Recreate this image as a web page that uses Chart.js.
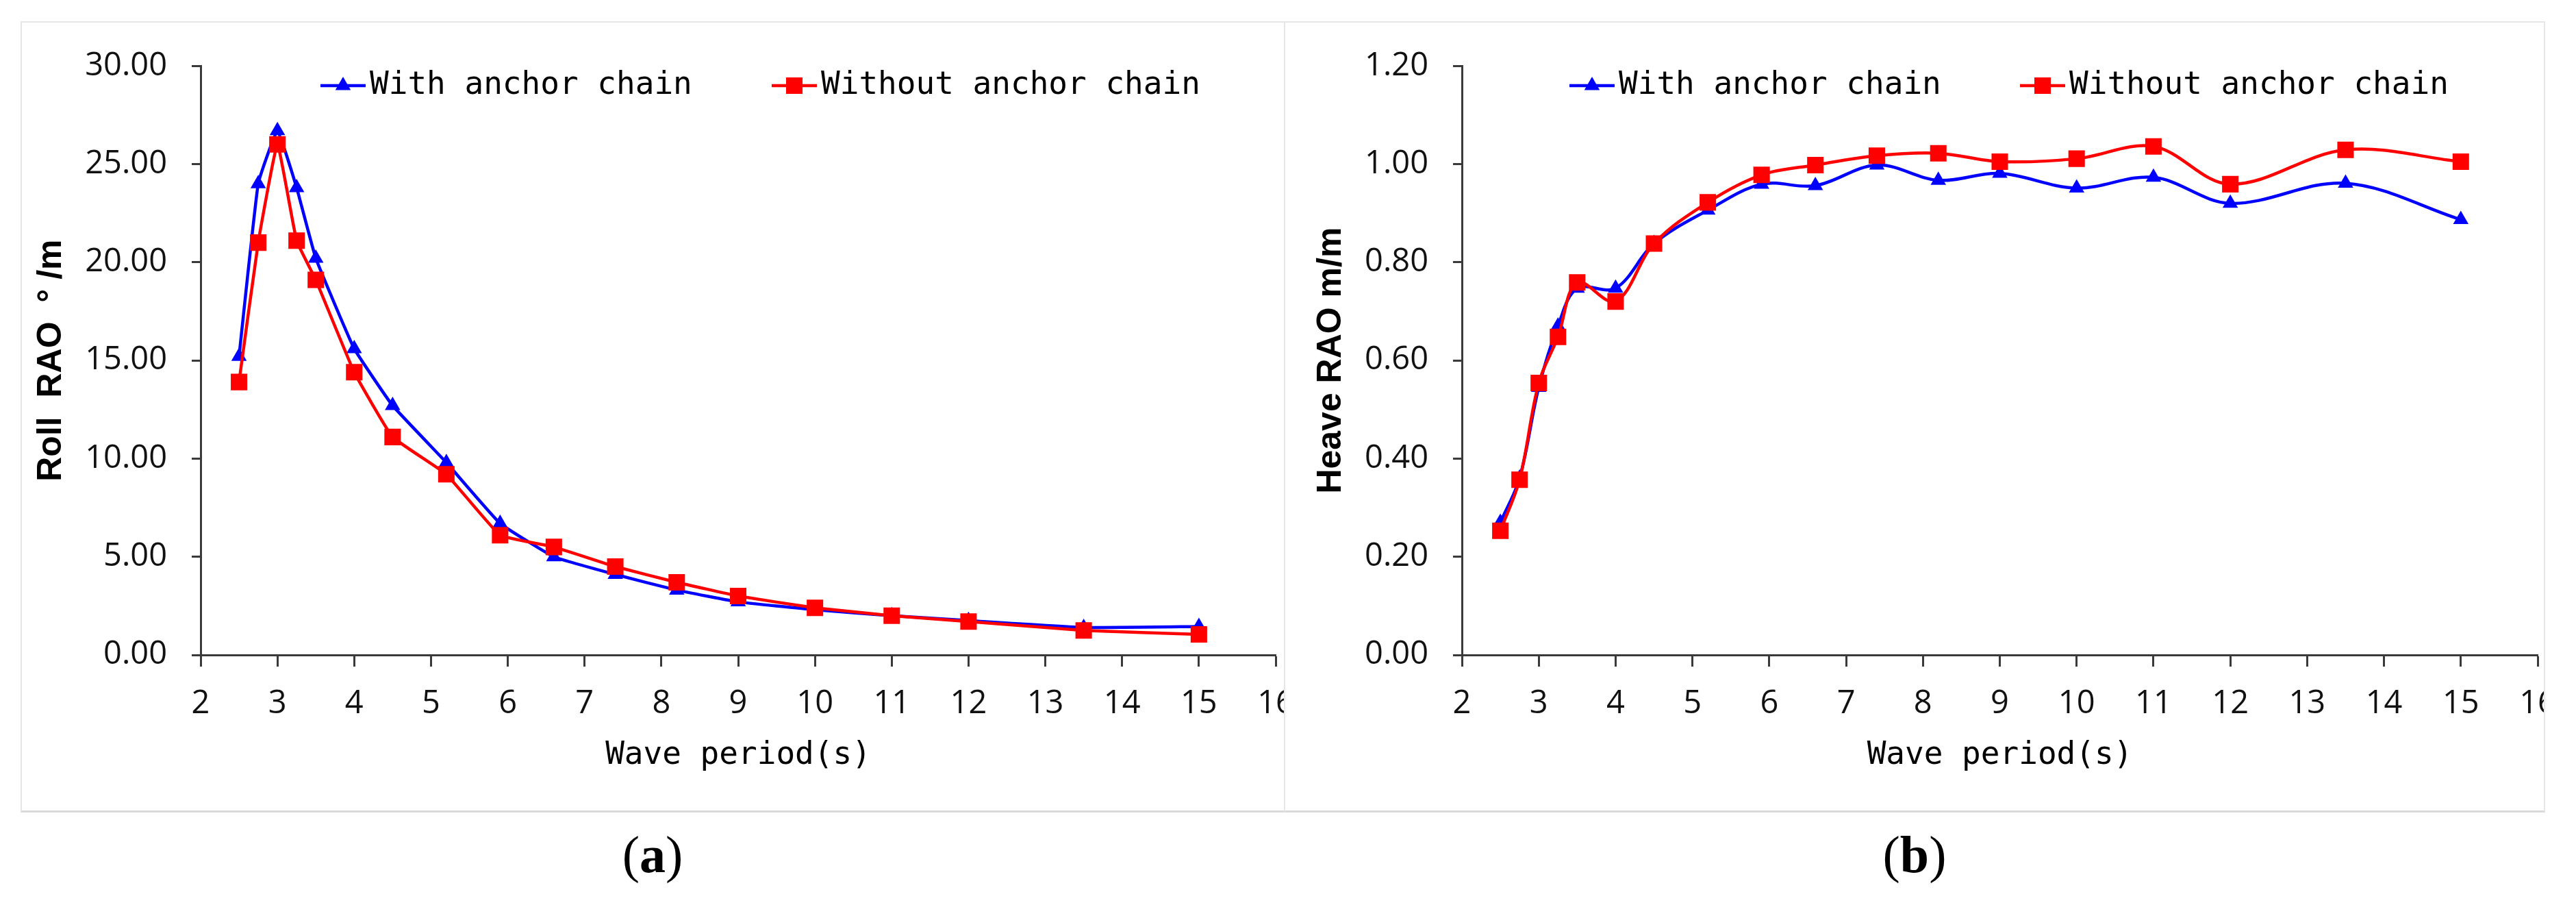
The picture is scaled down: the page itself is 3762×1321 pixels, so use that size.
<!DOCTYPE html>
<html>
<head>
<meta charset="utf-8">
<script src="https://cdn.jsdelivr.net/npm/chart.js@4.4.1/dist/chart.umd.min.js"></script>
<style>
  html, body { margin: 0; background: #fff; }
  body { width: 3762px; height: 1321px; position: relative; overflow: hidden; }
  .clip { position: absolute; top: 32px; height: 1153px; overflow: hidden; }
  .wrap { position: relative; width: 1900px; height: 1153px; }
  .box { position: absolute; top: 31px; height: 1155px; box-sizing: border-box;
         border: 2px solid #e6e6e6; border-bottom: 3px solid #d9d9d9; pointer-events: none; }
  .cap { position: absolute; top: 1197px; width: 400px; height: 100px; line-height: 100px;
         text-align: center; font-family: 'Liberation Serif', 'Times New Roman', serif; font-size: 76px; color: #000; }
</style>
</head>
<body>
<div class="clip" style="left:31px;width:1845px"><div class="wrap"><canvas id="chartRoll"></canvas></div></div>
<div class="clip" style="left:1876px;width:1840px"><div class="wrap"><canvas id="chartHeave"></canvas></div></div>
<div class="box" style="left:30px;width:1847px"></div>
<div class="box" style="left:1875px;width:1842px"></div>
<div class="cap" style="left:753px">(<b>a</b>)</div>
<div class="cap" style="left:2596px">(<b>b</b>)</div>

<script>
// wave period (s)
const periods = [2.5, 2.75, 3, 3.25, 3.5, 4, 4.5, 5.2, 5.9, 6.6, 7.4, 8.2, 9, 10, 11, 12, 13.5, 15];

// (a) roll RAO
const rollWith    = [15.2, 24.0, 26.7, 23.8, 20.2, 15.6, 12.7, 9.8, 6.7, 5.0, 4.1, 3.3, 2.7, 2.3, 2.0, 1.75, 1.4, 1.45];
const rollWithout = [13.9, 21.0, 26.0, 21.1, 19.1, 14.4, 11.1, 9.2, 6.1, 5.5, 4.5, 3.7, 3.0, 2.4, 2.0, 1.7, 1.25, 1.05];

// (b) heave RAO
const heaveWith    = [0.27, 0.36, 0.545, 0.67, 0.747, 0.747, 0.838, 0.906, 0.959, 0.956, 0.998, 0.967, 0.981, 0.951, 0.973, 0.920, 0.961, 0.887];
const heaveWithout = [0.253, 0.357, 0.554, 0.648, 0.759, 0.72, 0.838, 0.922, 0.978, 0.998, 1.017, 1.022, 1.005, 1.011, 1.036, 0.959, 1.029, 1.005];

const seriesLabels = ['With anchor chain', 'Without anchor chain'];

const AXIS = '#3a3a3a';
const TICK_FONT = { family: "'Open Sans', 'Liberation Sans', sans-serif", size: 47 };
const MONO = "'DejaVu Sans Mono', 'Liberation Mono', monospace";

// legend drawn inside the plot area, like the Excel original
const inLegend = {
  id: 'inLegend',
  afterDraw(chart, args, opts) {
    const ctx = chart.ctx;
    ctx.save();
    chart.data.datasets.forEach((ds, i) => {
      const x0 = opts.starts[i], y = opts.y, len = 66;
      ctx.strokeStyle = ds.borderColor;
      ctx.lineWidth = ds.borderWidth;
      ctx.beginPath(); ctx.moveTo(x0, y); ctx.lineTo(x0 + len, y); ctx.stroke();
      ctx.fillStyle = ds.pointBackgroundColor;
      Chart.helpers.drawPoint(ctx, { pointStyle: ds.pointStyle, radius: ds.pointRadius, rotation: 0, borderWidth: 0 }, x0 + len / 2, y);
      ctx.fillStyle = '#000';
      ctx.font = '46px ' + MONO;
      ctx.textBaseline = 'middle';
      ctx.textAlign = 'left';
      ctx.fillText(ds.label, x0 + len + 6, y);
    });
    ctx.restore();
  }
};

function pts(ys) { return periods.map((p, i) => ({ x: p, y: ys[i] })); }

function makeChart(id, c) {
  return new Chart(document.getElementById(id), {
    type: 'line',
    data: {
      datasets: [{
        label: seriesLabels[0],
        data: pts(c.withData),
        borderColor: '#0000ff', backgroundColor: '#0000ff', pointBackgroundColor: '#0000ff',
        borderWidth: 4.5, pointStyle: 'triangle', pointRadius: 13, pointBorderWidth: 0,
        tension: c.tension, order: 2
      }, {
        label: seriesLabels[1],
        data: pts(c.withoutData),
        borderColor: '#ff0000', backgroundColor: '#ff0000', pointBackgroundColor: '#ff0000',
        borderWidth: 4.5, pointStyle: 'rect', pointRadius: 17, pointBorderWidth: 0,
        tension: c.tension, order: 1
      }]
    },
    options: {
      responsive: true, maintainAspectRatio: false, animation: false, events: [],
      layout: { padding: { top: 52, right: c.padRight, bottom: 0, left: 0 } },
      plugins: {
        legend: { display: false },
        tooltip: { enabled: false },
        inLegend: { y: 93, starts: c.legendStarts }
      },
      scales: {
        x: {
          type: 'linear', min: 2, max: 16,
          ticks: { stepSize: 1, color: '#111', font: TICK_FONT, padding: 26, maxRotation: 0 },
          grid: { drawOnChartArea: false, tickLength: 17, tickWidth: 3, tickColor: AXIS },
          border: { color: AXIS, width: 3 },
          title: { display: true, text: 'Wave period(s)', color: '#000', font: { family: MONO, size: 46 }, padding: { bottom: 54 } },
          afterFit: s => { s.height = 229; }
        },
        y: {
          min: 0, max: c.yMax,
          ticks: { stepSize: c.yStep, color: '#111', font: TICK_FONT, padding: 36, callback: v => Number(v).toFixed(2) },
          grid: { drawOnChartArea: false, tickLength: 13, tickWidth: 3, tickColor: AXIS },
          border: { color: AXIS, width: 3 },
          title: { display: true, text: c.yTitle, color: '#000', font: { family: "'Liberation Sans', Arial, sans-serif", size: 50, weight: 'bold' }, padding: { top: c.titlePad } },
          afterFit: s => { s.width = c.yWidth; }
        }
      }
    },
    plugins: [inLegend]
  });
}

makeChart('chartRoll', {
  withData: rollWith, withoutData: rollWithout, tension: 0.1,
  yMax: 30, yStep: 5, yTitle: 'Roll  RAO  ° /m',
  yWidth: 262, titlePad: 14, padRight: 68, legendStarts: [437, 1096]
});

makeChart('chartHeave', {
  withData: heaveWith, withoutData: heaveWithout, tension: 0.35,
  yMax: 1.2, yStep: 0.2, yTitle: 'Heave RAO m/m',
  yWidth: 259, titlePad: 38, padRight: 70, legendStarts: [416, 1074]
});
</script>
</body>
</html>
